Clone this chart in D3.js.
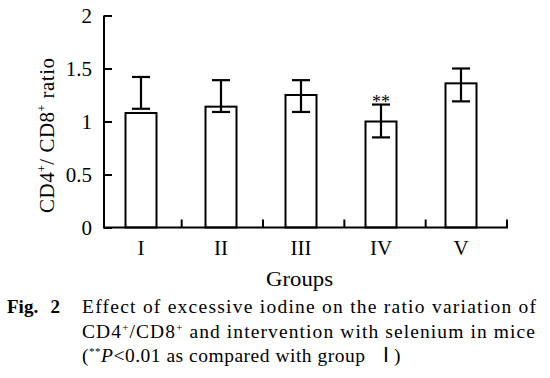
<!DOCTYPE html>
<html>
<head>
<meta charset="utf-8">
<script src="https://cdn.jsdelivr.net/npm/d3@7"></script>
<style>
  body { margin: 0; background: #fff; }
  text { font-family: "Liberation Serif", "Times New Roman", serif; fill: #000; }
</style>
</head>
<body>
<div id="graph"></div>
<script>
// data
var groups   = ["I", "II", "III", "IV", "V"];
var means    = [1.08, 1.14, 1.25, 1.00, 1.36];
var errLow   = [1.12, 1.09, 1.09, 0.85, 1.19];
var errHigh  = [1.42, 1.39, 1.39, 1.16, 1.50];
var marks    = ["", "", "", "**", ""];
var yTicks   = [0, 0.5, 1, 1.5, 2];

var W = 550, H = 378;
var svg = d3.select("#graph").append("svg")
  .attr("width", W).attr("height", H);

// bar centres and the category separator ticks
var x = d3.scalePoint().domain(groups).range([141, 461]);
var xSep = d3.scalePoint().domain(groups).range([181.7, 507]);
var y = d3.scaleLinear().domain([0, 2]).range([227.5, 15.5]);
var axisX = 104, barW = 31, cap = 9;

// bars + error bars
groups.forEach(function(g, i) {
  var cx = x(g);
  svg.append("rect")
    .attr("x", cx - barW / 2).attr("y", y(means[i]))
    .attr("width", barW).attr("height", y(0) - y(means[i]))
    .attr("fill", "#fff").attr("stroke", "#000").attr("stroke-width", 2);

  var eb = svg.append("g").attr("stroke", "#000").attr("stroke-width", 2.2);
  eb.append("line").attr("x1", cx).attr("x2", cx).attr("y1", y(errLow[i])).attr("y2", y(errHigh[i]));
  eb.append("line").attr("x1", cx - cap).attr("x2", cx + cap).attr("y1", y(errLow[i])).attr("y2", y(errLow[i]));
  eb.append("line").attr("x1", cx - cap).attr("x2", cx + cap).attr("y1", y(errHigh[i])).attr("y2", y(errHigh[i]));

  if (marks[i]) {
    svg.append("text").attr("x", cx).attr("y", y(errHigh[i]) + 3)
      .attr("text-anchor", "middle").style("font-size", "18px").text(marks[i]);
  }
});

// y axis, ticks pointing inward
var yAxisG = svg.append("g").attr("transform", "translate(" + axisX + ",0)")
  .call(d3.axisRight(y).tickValues(yTicks).tickSize(8).tickFormat(d3.format("~g")));
yAxisG.select(".domain").attr("d", "M0," + y(2) + "V" + y(0)).attr("stroke-width", 2);
yAxisG.selectAll(".tick line").attr("stroke-width", 2);
yAxisG.selectAll(".tick text")
  .attr("x", -12).attr("dy", "0.35em").attr("text-anchor", "end")
  .style("font-size", "21px").style("font-family", "Liberation Serif");

// x axis line, upward separator ticks, labels
svg.append("line").attr("x1", axisX - 1).attr("x2", xSep("V") + 1).attr("y1", y(0)).attr("y2", y(0))
  .attr("stroke", "#000").attr("stroke-width", 2);
groups.forEach(function(g) {
  svg.append("line").attr("x1", xSep(g)).attr("x2", xSep(g)).attr("y1", y(0)).attr("y2", y(0) - 8)
    .attr("stroke", "#000").attr("stroke-width", 2);
  svg.append("text").attr("x", x(g)).attr("y", 255)
    .attr("text-anchor", "middle").style("font-size", "21px").text(g);
});

// axis titles
svg.append("text").attr("x", 266).attr("y", 286)
  .attr("textLength", 67).attr("lengthAdjust", "spacingAndGlyphs")
  .style("font-size", "20px").text("Groups");

var yt = svg.append("text")
  .attr("transform", "translate(54,213) rotate(-90)")
  .attr("textLength", 155).attr("lengthAdjust", "spacing")
  .style("font-size", "21px");
yt.append("tspan").text("CD4");
yt.append("tspan").attr("dy", -8).style("font-size", "12px").text("+");
yt.append("tspan").attr("dy", 8).text("/ CD8");
yt.append("tspan").attr("dy", -8).style("font-size", "12px").text("+");
yt.append("tspan").attr("dy", 8).text(" ratio");

// caption
svg.append("text").attr("x", 7).attr("y", 313).style("font-size", "19px")
  .style("font-weight", "bold").text("Fig.");
svg.append("text").attr("x", 50.5).attr("y", 313).style("font-size", "19px")
  .style("font-weight", "bold").text("2");
svg.append("text").attr("x", 82).attr("y", 313).style("font-size", "19.5px")
  .attr("textLength", 454).attr("lengthAdjust", "spacing")
  .text("Effect of excessive iodine on the ratio variation of");
var l2 = svg.append("text").attr("x", 82).attr("y", 337.5).style("font-size", "19.5px")
  .attr("textLength", 453).attr("lengthAdjust", "spacing");
l2.append("tspan").text("CD4");
l2.append("tspan").attr("dy", -7).style("font-size", "11px").text("+");
l2.append("tspan").attr("dy", 7).text("/CD8");
l2.append("tspan").attr("dy", -7).style("font-size", "11px").text("+");
l2.append("tspan").attr("dy", 7).text(" and intervention with selenium in mice");
var l3 = svg.append("text").attr("x", 82).attr("y", 361.5).style("font-size", "19.5px")
  .attr("textLength", 283).attr("lengthAdjust", "spacing");
l3.append("tspan").text("(");
l3.append("tspan").attr("dy", -7).style("font-size", "11px").text("**");
l3.append("tspan").attr("dy", 7).style("font-style", "italic").text("P");
l3.append("tspan").text("<0.01 as compared with group");
svg.append("text").attr("x", 383).attr("y", 361.5).style("font-size", "19.5px").text("\u2160 )");
</script>
</body>
</html>
